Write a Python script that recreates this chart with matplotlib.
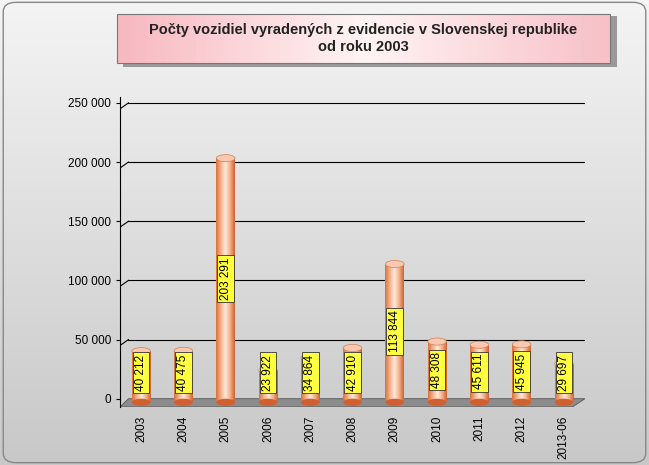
import matplotlib
matplotlib.use("Agg")
import matplotlib.pyplot as plt
import numpy as np
from matplotlib.patches import Ellipse, FancyBboxPatch, Polygon
from matplotlib.colors import LinearSegmentedColormap

categories = ["2003","2004","2005","2006","2007","2008","2009","2010","2011","2012","2013-06"]
values = [40212, 40475, 203291, 23922, 34864, 42910, 113844, 48308, 45611, 45945, 29697]
labels = ["40 212","40 475","203 291","23 922","34 864","42 910","113 844","48 308","45 611","45 945","29 697"]
yticks = [0, 50000, 100000, 150000, 200000, 250000]
ytick_labels = ["0","50 000","100 000","150 000","200 000","250 000"]

W, H = 649, 465
fig = plt.figure(figsize=(W/100, H/100), dpi=100)
bg = fig.add_axes([0,0,1,1]); bg.axis("off")
g = np.linspace(0,1,100).reshape(-1,1)
bg.imshow(g, extent=[0,1,0,1], aspect="auto", cmap=LinearSegmentedColormap.from_list("b",["#f4f4f4","#c8c8c8"]), origin="upper", zorder=0)
bg.add_patch(FancyBboxPatch((0.005,0.005),0.99,0.99,boxstyle="round,pad=0,rounding_size=0.02",fill=False,ec="#888888",lw=1,transform=bg.transAxes))
bg.add_patch(plt.Rectangle((0.19,0.855),0.76,0.11,fc="#999999",ec="none",zorder=1))
tg = np.linspace(0,1,100).reshape(1,-1)
bg.imshow(tg, extent=[0.18,0.94,0.865,0.97], aspect="auto", zorder=2,
          cmap=LinearSegmentedColormap.from_list("t",["#f8b8c0","#fff4f4","#f8c0c8"]))
bg.add_patch(plt.Rectangle((0.18,0.865),0.76,0.105,fill=False,ec="#777777",lw=0.8,zorder=3))
bg.set_xlim(0,1); bg.set_ylim(0,1)
bg.text(0.56,0.917,"Počty vozidiel vyradených z evidencie v Slovenskej republike\nod roku 2003",
        ha="center",va="center",fontsize=10.5,fontweight="bold",family="Liberation Sans",color="#222222",linespacing=1.2,zorder=4)

ax = fig.add_axes([120/W, (H-407)/H, (585-120)/W, (407-97)/H])
ax.set_facecolor("none")
n = len(values)
ax.set_xlim(-0.5, n-0.5)
ax.set_ylim(-7000, 255000)
for t in yticks[1:]:
    ax.plot([-0.3, n-0.5],[t,t],color="black",lw=0.8,zorder=0)
    ax.plot([-0.5,-0.3],[t-5000,t],color="black",lw=0.8,zorder=0)
floor = Polygon([[-0.5,-7000],[n-0.8,-7000],[n-0.5,0],[-0.3,0]],closed=True,fc="#8c8c8c",ec="#555555",lw=0.6,zorder=1)
ax.add_patch(floor)
cmap = LinearSegmentedColormap.from_list("c",["#d87040","#f4b088","#ffe8dc","#f4b088","#d06030"])
grad = np.linspace(0,1,100).reshape(1,-1)
bw = 0.44
eh = 6000
for i,(v,l) in enumerate(zip(values,labels)):
    x = i
    r = plt.Rectangle((x-bw/2,-3000),bw,v+3000,fc="none",ec="none")
    ax.add_patch(r)
    im = ax.imshow(grad,extent=[x-bw/2,x+bw/2,-3000,v],aspect="auto",cmap=cmap,zorder=2)
    im.set_clip_path(r)
    ax.add_patch(Ellipse((x,-3000),bw,eh,fc="#d06030",ec="none",zorder=2))
    ax.add_patch(Ellipse((x,v),bw,eh,fc="#f8c8b0",ec="#d08050",lw=0.5,zorder=3))
    ax.text(x, max(v/2, 22000), l, rotation=90, ha="center", va="center", fontsize=8.5,
            family="Liberation Sans", zorder=4,
            bbox=dict(boxstyle="square,pad=0.2", fc="#ffff40", ec="#333333", lw=0.6))
ax.set_xticks(range(n))
ax.set_xticklabels(categories, rotation=90, fontsize=8.5, family="Liberation Sans")
ax.set_yticks(yticks)
ax.set_yticklabels(ytick_labels, fontsize=8.5, family="Liberation Sans")
for s in ["top","right","bottom"]:
    ax.spines[s].set_visible(False)
ax.tick_params(axis="x", length=0, pad=6)
ax.tick_params(axis="y", length=3)
fig.savefig("out.png", dpi=100)
